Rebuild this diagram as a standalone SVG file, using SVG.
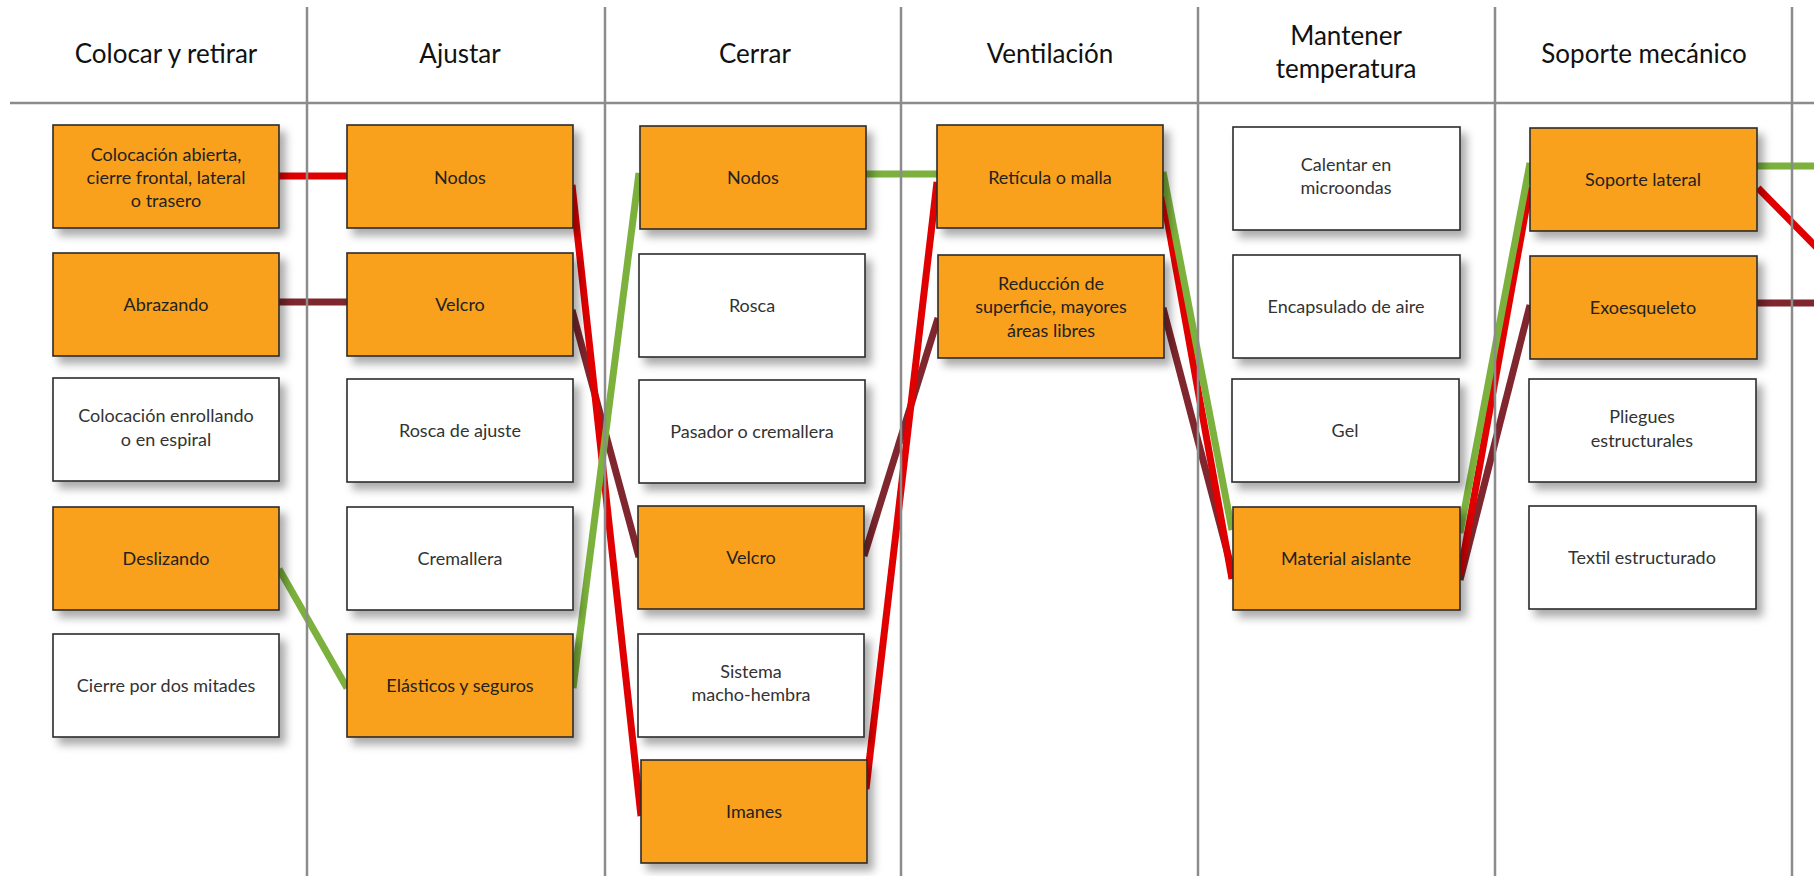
<svg xmlns="http://www.w3.org/2000/svg" width="1814" height="876" viewBox="0 0 1814 876">
<defs>
<filter id="sh" x="-10%" y="-10%" width="130%" height="140%">
<feDropShadow dx="6" dy="7" stdDeviation="4" flood-color="#000" flood-opacity="0.33"/>
</filter>
<style>
.grid{stroke:#8c8c8c;stroke-width:2.5;fill:none}
.hd{font-family:Lato,"Noto Sans",sans-serif;font-size:26px;fill:#111;text-anchor:middle}
.on rect{fill:#F9A01F;stroke:#2b2b2b;stroke-width:1.6;filter:url(#sh)}
.off rect{fill:#fff;stroke:#2b2b2b;stroke-width:1.6;filter:url(#sh)}
.n text{font-family:Lato,"Noto Sans",sans-serif;font-size:18px;text-anchor:middle}
.on text{fill:#222}
.off text{fill:#333}
.c{fill:none;stroke-width:7;stroke-linecap:butt}
.r{stroke:#E10000}
.m{stroke:#7F262E}
.g{stroke:#7BB13C}
</style>
</defs>
<rect width="1814" height="876" fill="#fff"/>

<g id="connectors">
<line class="c m" x1="279" y1="302" x2="347" y2="302"/>
<line class="c m" x1="572" y1="310" x2="639" y2="557"/>
<line class="c m" x1="864" y1="556" x2="938" y2="318"/>
<line class="c m" x1="1163" y1="308" x2="1232" y2="570"/>
<line class="c m" x1="1460" y1="580" x2="1530" y2="305"/>
<line class="c m" x1="1757" y1="303" x2="1814" y2="303"/>
<line class="c r" x1="279" y1="176" x2="347" y2="176"/>
<line class="c r" x1="572" y1="185" x2="641" y2="816"/>
<line class="c r" x1="866" y1="789" x2="937" y2="182"/>
<line class="c r" x1="1163" y1="196" x2="1232" y2="579"/>
<line class="c r" x1="1460" y1="575" x2="1530" y2="187"/>
<line class="c r" x1="1758" y1="188" x2="1830" y2="261"/>
<line class="c g" x1="279" y1="569" x2="347" y2="688"/>
<line class="c g" x1="573" y1="688" x2="639" y2="173"/>
<line class="c g" x1="865" y1="174" x2="937" y2="174"/>
<line class="c g" x1="1163" y1="172" x2="1232" y2="530"/>
<line class="c g" x1="1460" y1="533" x2="1530" y2="163"/>
<line class="c g" x1="1757" y1="166" x2="1814" y2="166"/>
</g>

<g id="grid">
<line class="grid" x1="10" y1="103" x2="1814" y2="103"/>
<line class="grid" x1="307" y1="7" x2="307" y2="876"/>
<line class="grid" x1="605" y1="7" x2="605" y2="876"/>
<line class="grid" x1="901" y1="7" x2="901" y2="876"/>
<line class="grid" x1="1198" y1="7" x2="1198" y2="876"/>
<line class="grid" x1="1495" y1="7" x2="1495" y2="876"/>
<line class="grid" x1="1792" y1="7" x2="1792" y2="876"/>
</g>

<g id="headers">
<text class="hd" x="166" y="63">Colocar y retirar</text>
<text class="hd" x="460" y="63">Ajustar</text>
<text class="hd" x="755" y="63">Cerrar</text>
<text class="hd" x="1050" y="63">Ventilación</text>
<text class="hd" x="1346" y="45">Mantener</text>
<text class="hd" x="1346" y="78">temperatura</text>
<text class="hd" x="1644" y="63">Soporte mecánico</text>
</g>

<g id="c1-1" class="n on"><rect x="53" y="125" width="226" height="103"/><text x="166" y="161">Colocación abierta,</text><text x="166" y="184">cierre frontal, lateral</text><text x="166" y="207">o trasero</text></g>
<g id="c1-2" class="n on"><rect x="53" y="253" width="226" height="103"/><text x="166" y="311">Abrazando</text></g>
<g id="c1-3" class="n off"><rect x="53" y="378" width="226" height="103"/><text x="166" y="422">Colocación enrollando</text><text x="166" y="446">o en espiral</text></g>
<g id="c1-4" class="n on"><rect x="53" y="507" width="226" height="103"/><text x="166" y="565">Deslizando</text></g>
<g id="c1-5" class="n off"><rect x="53" y="634" width="226" height="103"/><text x="166" y="692">Cierre por dos mitades</text></g>

<g id="c2-1" class="n on"><rect x="347" y="125" width="226" height="103"/><text x="460" y="184">Nodos</text></g>
<g id="c2-2" class="n on"><rect x="347" y="253" width="226" height="103"/><text x="460" y="311">Velcro</text></g>
<g id="c2-3" class="n off"><rect x="347" y="379" width="226" height="103"/><text x="460" y="437">Rosca de ajuste</text></g>
<g id="c2-4" class="n off"><rect x="347" y="507" width="226" height="103"/><text x="460" y="565">Cremallera</text></g>
<g id="c2-5" class="n on"><rect x="347" y="634" width="226" height="103"/><text x="460" y="692">Elásticos y seguros</text></g>

<g id="c3-1" class="n on"><rect x="640" y="126" width="226" height="103"/><text x="753" y="184">Nodos</text></g>
<g id="c3-2" class="n off"><rect x="639" y="254" width="226" height="103"/><text x="752" y="312">Rosca</text></g>
<g id="c3-3" class="n off"><rect x="639" y="380" width="226" height="103"/><text x="752" y="438">Pasador o cremallera</text></g>
<g id="c3-4" class="n on"><rect x="638" y="506" width="226" height="103"/><text x="751" y="564">Velcro</text></g>
<g id="c3-5" class="n off"><rect x="638" y="634" width="226" height="103"/><text x="751" y="678">Sistema</text><text x="751" y="701">macho-hembra</text></g>
<g id="c3-6" class="n on"><rect x="641" y="760" width="226" height="103"/><text x="754" y="818">Imanes</text></g>

<g id="c4-1" class="n on"><rect x="937" y="125" width="226" height="103"/><text x="1050" y="184">Retícula o malla</text></g>
<g id="c4-2" class="n on"><rect x="938" y="255" width="226" height="103"/><text x="1051" y="290">Reducción de</text><text x="1051" y="313">superficie, mayores</text><text x="1051" y="337">áreas libres</text></g>

<g id="c5-1" class="n off"><rect x="1233" y="127" width="227" height="103"/><text x="1346" y="171">Calentar en</text><text x="1346" y="194">microondas</text></g>
<g id="c5-2" class="n off"><rect x="1233" y="255" width="227" height="103"/><text x="1346" y="313">Encapsulado de aire</text></g>
<g id="c5-3" class="n off"><rect x="1232" y="379" width="227" height="103"/><text x="1345" y="437">Gel</text></g>
<g id="c5-4" class="n on"><rect x="1233" y="507" width="227" height="103"/><text x="1346" y="565">Material aislante</text></g>

<g id="c6-1" class="n on"><rect x="1530" y="128" width="227" height="103"/><text x="1643" y="186">Soporte lateral</text></g>
<g id="c6-2" class="n on"><rect x="1530" y="256" width="227" height="103"/><text x="1643" y="314">Exoesqueleto</text></g>
<g id="c6-3" class="n off"><rect x="1529" y="379" width="227" height="103"/><text x="1642" y="423">Pliegues</text><text x="1642" y="447">estructurales</text></g>
<g id="c6-4" class="n off"><rect x="1529" y="506" width="227" height="103"/><text x="1642" y="564">Textil estructurado</text></g>
</svg>
